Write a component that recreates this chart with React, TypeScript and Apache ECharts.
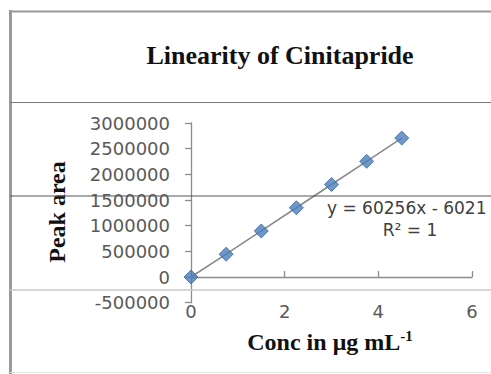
import React, { useEffect, useRef } from "react";
import * as echarts from "echarts";

const concentrations = [0, 0.75, 1.5, 2.25, 3, 3.75, 4.5];
const peakAreas = [0, 445000, 898000, 1350000, 1802000, 2254000, 2706000];
const titleText = "Linearity of Cinitapride";
const yAxisTitle = "Peak area";
const xAxisTitleMain = "Conc in μg mL";
const xAxisTitleSup = "-1";
const equationText = "y = 60256x - 6021";
const r2Text = "R² = 1";

export default function App() {
  const ref = useRef<HTMLDivElement>(null);
  useEffect(() => {
    if (!ref.current) return;
    const chart = echarts.init(ref.current, null, { renderer: "svg" });
    const points = concentrations.map((c, i) => [c, peakAreas[i]]);
    const labelColor = "#595959";
    const axisColor = "#8c8c8c";
    chart.setOption({
      animation: false,
      backgroundColor: "#ffffff",
      grid: { left: 191, right: 19, top: 123, bottom: 71.3 },
      xAxis: [
        {
          type: "value",
          min: 0,
          max: 6,
          interval: 2,
          position: "bottom",
          axisLine: { show: true, onZero: true, lineStyle: { color: axisColor, width: 1.3 } },
          axisTick: { show: true, inside: true, length: 6, lineStyle: { color: axisColor, width: 1.3 } },
          axisLabel: { show: false },
          splitLine: { show: false },
        },
        {
          type: "value",
          min: 0,
          max: 6,
          interval: 2,
          position: "bottom",
          axisLine: { show: false, onZero: false },
          axisTick: { show: false },
          axisLabel: {
            show: true,
            margin: 0,
            color: labelColor,
            fontFamily: "DejaVu Sans",
            fontSize: 18,
          },
          splitLine: { show: false },
        },
      ],
      yAxis: {
        type: "value",
        min: -500000,
        max: 3000000,
        interval: 500000,
        axisLine: { show: true, lineStyle: { color: axisColor, width: 1.3 } },
        axisTick: { show: true, length: 6, lineStyle: { color: axisColor, width: 1.3 } },
        axisLabel: {
          margin: 21,
          color: labelColor,
          fontFamily: "DejaVu Sans",
          fontSize: 18,
          formatter: (v: number) => String(v),
        },
        splitLine: { show: false },
      },
      series: [
        {
          type: "line",
          xAxisIndex: 0,
          data: points,
          showSymbol: false,
          symbol: "none",
          lineStyle: { color: "#8a8a8a", width: 1.6 },
          z: 2,
        },
        {
          type: "scatter",
          xAxisIndex: 0,
          data: points,
          symbol: "diamond",
          symbolSize: [14, 14],
          itemStyle: { color: "#4a7ebb", borderColor: "#3a659a", borderWidth: 1 },
          z: 3,
        },
      ],
      graphic: [
        { type: "line", z: 100, shape: { x1: 10, y1: 11.5, x2: 491, y2: 11.5 }, style: { stroke: "#9a9a9a", lineWidth: 2 } },
        { type: "line", z: 100, shape: { x1: 10.5, y1: 10, x2: 10.5, y2: 374 }, style: { stroke: "#9a9a9a", lineWidth: 3 } },
        { type: "line", z: 100, shape: { x1: 10, y1: 102.5, x2: 491, y2: 102.5 }, style: { stroke: "#7a7a7a", lineWidth: 1.2 } },
        { type: "line", z: 100, shape: { x1: 10, y1: 196, x2: 491, y2: 196 }, style: { stroke: "#555555", lineWidth: 1.2 } },
        { type: "line", z: 100, shape: { x1: 10, y1: 290, x2: 491, y2: 290 }, style: { stroke: "#c8c8c8", lineWidth: 1.6 } },
        { type: "line", z: 100, shape: { x1: 10, y1: 372.5, x2: 491, y2: 372.5 }, style: { stroke: "#e4e4e4", lineWidth: 1 } },
        {
          type: "text",
          x: 280,
          y: 55,
          style: {
            text: titleText,
            font: "bold 26px 'Liberation Serif'",
            fill: "#111111",
            align: "center",
            verticalAlign: "middle",
          },
        },
        {
          type: "text",
          x: 57,
          y: 212,
          rotation: Math.PI / 2,
          style: {
            text: yAxisTitle,
            font: "bold 24px 'Liberation Serif'",
            fill: "#111111",
            align: "center",
            verticalAlign: "middle",
          },
        },
        {
          type: "text",
          x: 330,
          y: 342,
          style: {
            text: "{a|" + xAxisTitleMain + "}{s|" + xAxisTitleSup + "}",
            align: "center",
            verticalAlign: "middle",
            rich: {
              a: { fontFamily: "Liberation Serif", fontWeight: "bold", fontSize: 24, fill: "#111111", color: "#111111" },
              s: { fontFamily: "Liberation Serif", fontWeight: "bold", fontSize: 15, fill: "#111111", color: "#111111", verticalAlign: "top", padding: [0, 0, 12, 0] },
            },
          },
        },
        {
          type: "text",
          x: 327,
          y: 208,
          style: {
            text: equationText,
            font: "17px 'DejaVu Sans'",
            fill: "#404040",
            align: "left",
            verticalAlign: "middle",
          },
        },
        {
          type: "text",
          x: 410,
          y: 230,
          style: {
            text: r2Text,
            font: "17px 'DejaVu Sans'",
            fill: "#404040",
            align: "center",
            verticalAlign: "middle",
          },
        },
      ],
    });
    return () => chart.dispose();
  }, []);
  return (
    <div
      ref={ref}
      style={{ position: "absolute", left: 0, top: 0, width: 491, height: 374, background: "#fff" }}
    />
  );
}
